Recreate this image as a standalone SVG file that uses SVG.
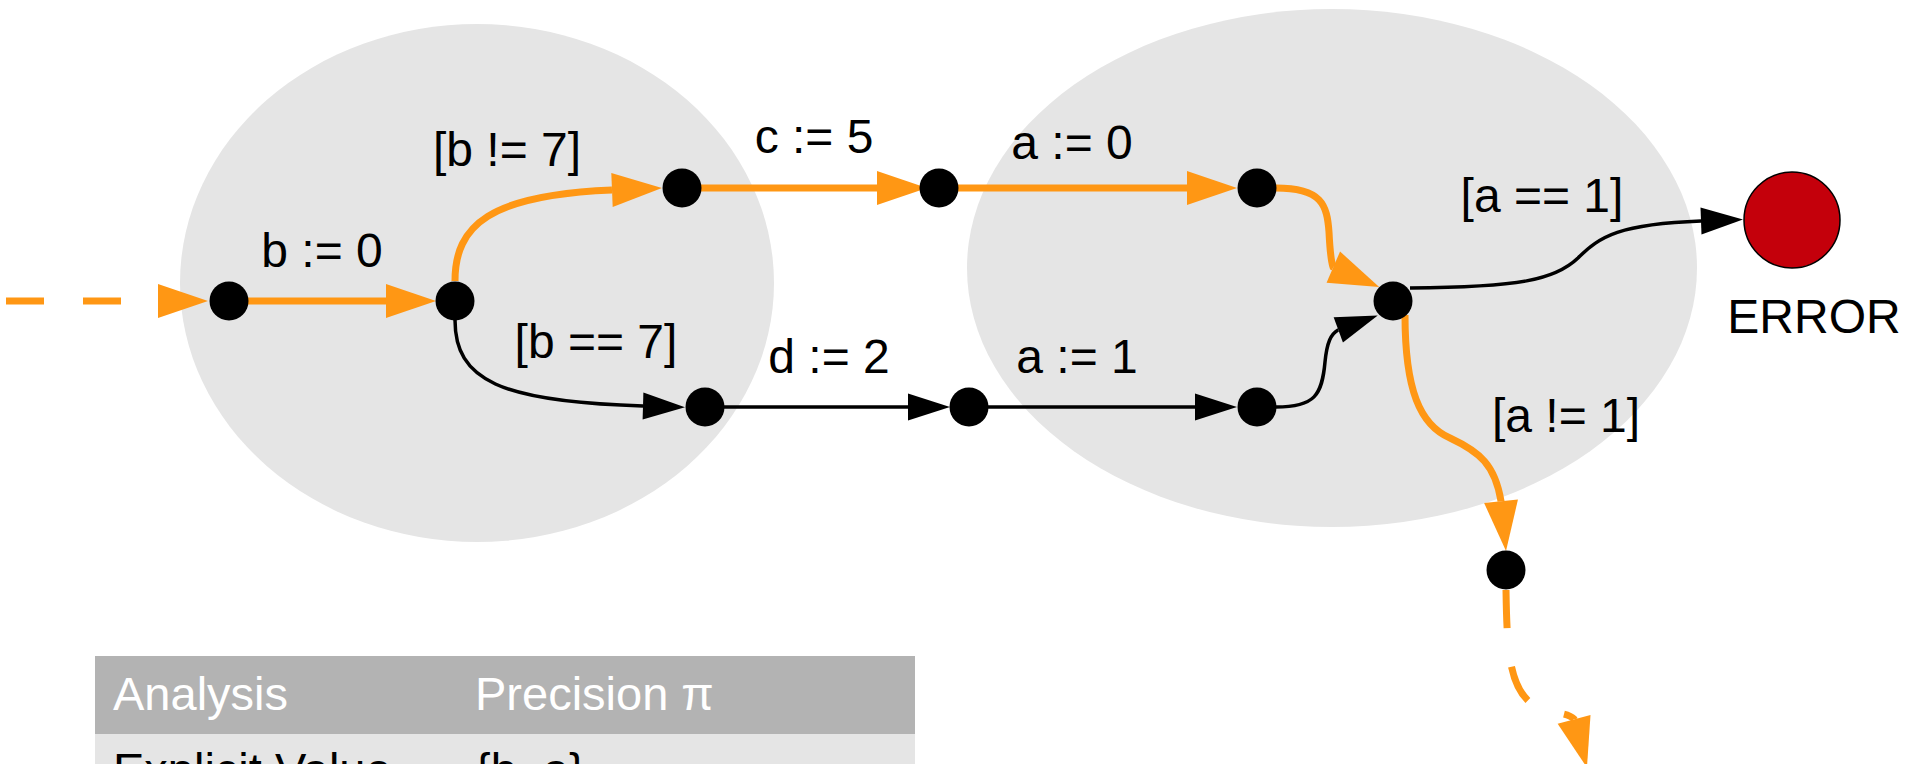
<svg xmlns="http://www.w3.org/2000/svg" width="1907" height="764" viewBox="0 0 1907 764">
<style>
.cl{fill:#e5e5e5}
.n{fill:#000}
.err{fill:#c4000b;stroke:#000;stroke-width:1.5}
.eo{fill:none;stroke:#ff9714;stroke-width:7}
.eb{fill:none;stroke:#000;stroke-width:3.5}
.dash{stroke-dasharray:38 39}
.lbl{font-family:"Liberation Sans",Arial,sans-serif;font-size:48px;fill:#000;text-anchor:middle}
.th{font-family:"Liberation Sans",Arial,sans-serif;font-size:47px;fill:#fff}
.td{font-family:"Liberation Sans",Arial,sans-serif;font-size:47px;fill:#000}
</style>
<defs>
<marker id="ho" markerUnits="userSpaceOnUse" markerWidth="54" markerHeight="38" viewBox="0 -19 54 38" refX="0" refY="0" orient="auto" overflow="visible"><path d="M0,-17 L50,0 L0,17 Z" fill="#ff9714"/></marker>
<marker id="hb" markerUnits="userSpaceOnUse" markerWidth="46" markerHeight="30" viewBox="0 -15 46 30" refX="0" refY="0" orient="auto" overflow="visible"><path d="M0,-13.5 L42,0 L0,13.5 Z" fill="#000"/></marker>
</defs>

<g id="clusters">
<ellipse id="cluster1" class="cl" cx="477" cy="283" rx="297" ry="259"/>
<ellipse id="cluster2" class="cl" cx="1332" cy="268" rx="365" ry="259"/>
</g>

<g id="connectors">
<path class="eo dash" d="M6,301 L158,301" marker-end="url(#ho)"/>
<path class="eo" d="M248,301 L386,301" marker-end="url(#ho)"/>
<path class="eo" d="M455,281 C455,225 490,195 612,190" marker-end="url(#ho)"/>
<path class="eo" d="M701,188 L877,188" marker-end="url(#ho)"/>
<path class="eo" d="M958,188 L1187,188" marker-end="url(#ho)"/>
<path class="eb" d="M455,320 C455,380 500,402 643,406" marker-end="url(#hb)"/>
<path class="eb" d="M724,407 L908,407" marker-end="url(#hb)"/>
<path class="eb" d="M988,407 L1195,407" marker-end="url(#hb)"/>
<path class="eo" d="M1276,188 C1322,188 1327,205 1329,232 C1330,252 1331,261 1333,267 l0.3,0.13" marker-end="url(#ho)"/>
<path class="eb" d="M1276,407 C1315,407 1322,395 1325,362 C1327,342 1331,334 1338,330 l0.3,-0.11" marker-end="url(#hb)"/>
<path class="eb" d="M1410,288 C1520,287 1555,280 1578,258 C1600,236 1620,224 1701,221" marker-end="url(#hb)"/>
<path class="eo" d="M1405,315 C1405,390 1420,425 1450,438 C1480,452 1495,465 1501,501 l0.03,0.3" marker-end="url(#ho)"/>
<path class="eo dash" d="M1506,590 C1507,652 1509,692 1537,707 C1552,714 1567,712 1574,719 l0.08,0.3" marker-end="url(#ho)"/>
</g>

<g id="labels">
<text class="lbl" x="322" y="267">b := 0</text>
<text class="lbl" x="507" y="166">[b != 7]</text>
<text class="lbl" x="814" y="153">c := 5</text>
<text class="lbl" x="1072" y="159">a := 0</text>
<text class="lbl" x="596" y="358">[b == 7]</text>
<text class="lbl" x="829" y="373">d := 2</text>
<text class="lbl" x="1077" y="373">a := 1</text>
<text class="lbl" x="1542" y="212">[a == 1]</text>
<text class="lbl" x="1566" y="432">[a != 1]</text>
</g>

<g id="n1"><circle class="n" cx="229" cy="301" r="19.5"/></g>
<g id="n2"><circle class="n" cx="455" cy="301" r="19.5"/></g>
<g id="n3"><circle class="n" cx="682" cy="188" r="19.5"/></g>
<g id="n4"><circle class="n" cx="939" cy="188" r="19.5"/></g>
<g id="n5"><circle class="n" cx="705" cy="407" r="19.5"/></g>
<g id="n6"><circle class="n" cx="969" cy="407" r="19.5"/></g>
<g id="n7"><circle class="n" cx="1257" cy="188" r="19.5"/></g>
<g id="n8"><circle class="n" cx="1257" cy="407" r="19.5"/></g>
<g id="n9"><circle class="n" cx="1393" cy="301" r="19.5"/></g>
<g id="n10"><circle class="n" cx="1506" cy="570" r="19.5"/></g>
<g id="error"><circle class="err" cx="1792" cy="220" r="48"/><text class="lbl" x="1814" y="333">ERROR</text></g>

<g id="table">
<rect x="95" y="656" width="820" height="78" fill="#b3b3b3"/>
<rect x="95" y="734" width="820" height="40" fill="#e5e5e5"/>
<text class="th" x="113" y="710">Analysis</text>
<text class="th" x="475" y="710">Precision π</text>
<text class="td" x="113" y="786">Explicit Value</text>
<text class="td" x="475" y="786">{b, a}</text>
</g>
</svg>
